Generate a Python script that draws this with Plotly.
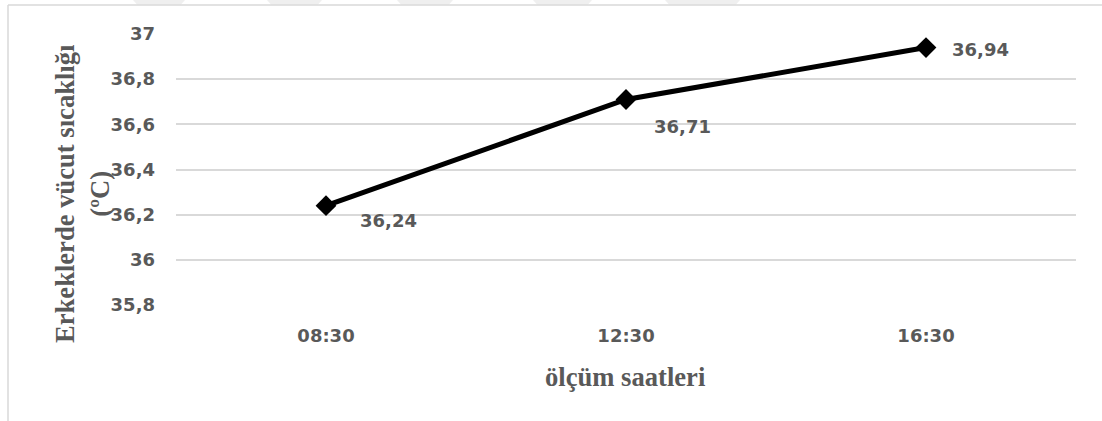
import plotly.graph_objects as go

# Measurement times and mean male body temperature (°C)
hours = ["08:30", "12:30", "16:30"]
temps = [36.24, 36.71, 36.94]
temp_labels = ["36,24", "36,71", "36,94"]
y_ticks = [35.8, 36.0, 36.2, 36.4, 36.6, 36.8, 37.0]
y_tick_text = ["35,8", "36", "36,2", "36,4", "36,6", "36,8", "37"]

W, H = 1102, 421
L, R, T, B = 176, 26, 34, 116
PW, PH = W - L - R, H - T - B

GRAY = "#595959"
TICK_FONT = dict(family="DejaVu Sans", size=18, color=GRAY)
SERIF = "Liberation Serif"
TITLE_FONT = dict(family=SERIF, size=26.6, color=GRAY)


def px(x):
    return (x - L) / PW


def py(y):
    return (H - B - y) / PH


fig = go.Figure()
fig.add_trace(go.Scatter(
    x=hours, y=temps, mode="lines+markers",
    line=dict(color="black", width=5),
    marker=dict(symbol="diamond", size=16, color="black"),
    showlegend=False, hoverinfo="skip",
))

# value labels placed beside each point
label_offsets = [(62, -15), (56, -27), (54, -2)]
annotations = []
for h, t, lab, (dx, dy) in zip(hours, temps, temp_labels, label_offsets):
    annotations.append(dict(
        x=h, y=t, xref="x", yref="y", text=f"<b>{lab}</b>",
        showarrow=False, xshift=dx, yshift=dy, font=TICK_FONT,
        xanchor="center", yanchor="middle",
    ))

# axis titles
annotations.append(dict(
    x=px(625), y=py(377), xref="paper", yref="paper",
    xanchor="center", yanchor="middle",
    text="<b>ölçüm saatleri</b>", showarrow=False,
    font=TITLE_FONT,
))
annotations.append(dict(
    x=px(82), y=py(194), xref="paper", yref="paper",
    xanchor="center", yanchor="middle",
    text="<b>Erkeklerde vücut sıcaklığı<br>(ºC)</b>", showarrow=False,
    textangle=-90,
    font=TITLE_FONT,
))

shapes = [
    # chart frame (left and top edges)
    dict(type="line", xref="paper", yref="paper",
         x0=px(8), x1=px(8), y0=py(5), y1=py(H + 5),
         line=dict(color="#d9d9d9", width=1.5)),
    dict(type="line", xref="paper", yref="paper",
         x0=px(8), x1=px(W + 5), y0=py(5), y1=py(5),
         line=dict(color="#d9d9d9", width=1.5)),
]
# faint header marks above the frame
for a, b in [(133, 185), (267, 322), (397, 453), (533, 592), (665, 740)]:
    shapes.append(dict(
        type="path", xref="paper", yref="paper",
        path=(f"M {px(a)} {py(0)} L {px(b)} {py(0)} "
              f"L {px(b - 4)} {py(4.5)} L {px(a + 4)} {py(4.5)} Z"),
        fillcolor="#efefef", line=dict(width=0), layer="below",
    ))

fig.update_layout(
    width=W, height=H,
    margin=dict(l=L, r=R, t=T, b=B),
    paper_bgcolor="white", plot_bgcolor="white",
    annotations=annotations, shapes=shapes,
    xaxis=dict(
        range=[-0.5, 2.5], showgrid=False, showline=False, zeroline=False,
        ticks="", tickfont=TICK_FONT, ticklabelstandoff=18,
        tickprefix="<b>", ticksuffix="</b>", fixedrange=True,
    ),
    yaxis=dict(
        range=[35.8, 37.0], tickvals=y_ticks,
        ticktext=[f"<b>{t}</b>" for t in y_tick_text],
        showgrid=True, gridcolor="#d9d9d9", gridwidth=1.5,
        showline=False, zeroline=False, ticks="",
        tickfont=TICK_FONT, ticklabelstandoff=20, fixedrange=True,
    ),
)

fig.write_html("out.html")
